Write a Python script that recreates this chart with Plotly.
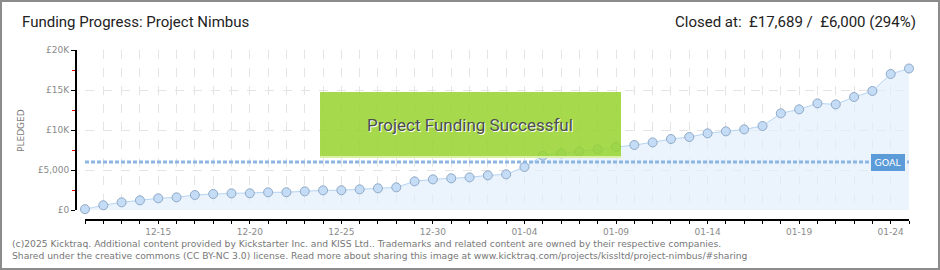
import plotly.graph_objects as go
import pandas as pd

# ---- data ----
dates = pd.date_range("2024-12-11", "2025-01-25", freq="D").strftime("%Y-%m-%d").tolist()
pledged = [100, 590, 960, 1210, 1460, 1580, 1875, 2000, 2080, 2090,
           2210, 2220, 2330, 2460, 2470, 2580, 2710, 2830, 3580, 3830,
           3960, 4080, 4330, 4460, 5380, 6790, 7080, 7330, 7580, 7875,
           8125, 8450, 8875, 9125, 9580, 9830, 10080, 10500, 12080, 12580,
           13330, 13200, 14125, 14875, 17000, 17689]
goal = 6000
x_label_dates = ["2024-12-15", "2024-12-20", "2024-12-25", "2024-12-30",
                 "2025-01-04", "2025-01-09", "2025-01-14", "2025-01-19", "2025-01-24"]
x_labels = ["12-15", "12-20", "12-25", "12-30", "01-04", "01-09", "01-14", "01-19", "01-24"]
y_tickvals = [0, 5000, 10000, 15000, 20000]
y_ticktext = ["£0", "£5,000", "£10K", "£15K", "£20K"]
y_minor = [2500, 7500, 12500, 17500]

title_left = "Funding Progress: Project Nimbus"
title_right = "Closed at:  £17,689 /  £6,000 (294%)"
footer1 = ("(c)2025 Kicktraq. Additional content provided by Kickstarter Inc. and KISS Ltd.. "
           "Trademarks and related content are owned by their respective companies.")
footer2 = ("Shared under the creative commons (CC BY-NC 3.0) license. Read more about sharing "
           "this image at www.kicktraq.com/projects/kissltd/project-nimbus/#sharing")

# ---- layout geometry helpers (pixels -> paper) ----
W, H = 940, 270
L, R, T, B = 76, 29, 50, 50
PW, PH = W - L - R, H - T - B
def px(x): return (x - L) / PW
def py(y): return (H - B - y) / PH

tickvals = dates
ticktext = [x_labels[x_label_dates.index(d)] if d in x_label_dates else "" for d in dates]

fig = go.Figure()

fig.add_trace(go.Scatter(
    x=dates, y=pledged, mode="lines+markers",
    line=dict(color="#b5d5f3", width=1),
    fill="tozeroy", fillcolor="rgba(225,237,251,0.65)",
    marker=dict(size=9, color="#c4dcf6", line=dict(color="#8fa9c6", width=1)),
    cliponaxis=False, hoverinfo="skip", showlegend=False,
))

fig.add_trace(go.Scatter(
    x=[dates[0], dates[-1]], y=[goal, goal], mode="lines",
    line=dict(color="#8db5e2", width=3, dash="4px,2px"),
    hoverinfo="skip", showlegend=False, cliponaxis=False,
))

fig.update_layout(
    width=W, height=H,
    margin=dict(l=L, r=R, t=T, b=B),
    paper_bgcolor="white", plot_bgcolor="white",
    xaxis=dict(
        type="date", range=[dates[0], dates[-1]],
        domain=[px(85), px(909)], anchor="free", position=0,
        tickmode="array", tickvals=tickvals, ticktext=ticktext,
        ticks="outside", ticklen=3, tickcolor="black", tickwidth=1,
        showline=True, linecolor="black", linewidth=2,
        showgrid=True, gridcolor="#e4e4e4", griddash="dash", gridwidth=1,
        tickfont=dict(family="DejaVu Sans", size=9, color="#8a8a8a"),
        zeroline=False, fixedrange=True,
    ),
    yaxis=dict(
        range=[0, 20000], domain=[py(210), 1], anchor="free", position=0,
        tickmode="array", tickvals=y_tickvals, ticktext=y_ticktext,
        ticks="outside", ticklen=4, tickcolor="black", tickwidth=1,
        showline=True, linecolor="black", linewidth=2,
        showgrid=True, gridcolor="#e4e4e4", griddash="dash", gridwidth=1,
        tickfont=dict(family="DejaVu Sans", size=9, color="#8a8a8a"),
        minor=dict(tickmode="array", tickvals=y_minor, ticks="outside", ticklen=3,
                   tickcolor="red", showgrid=False),
        zeroline=False, fixedrange=True,
    ),
    shapes=[
        # outer border
        dict(type="rect", xref="paper", yref="paper", x0=px(1), x1=px(939), y0=py(269), y1=py(1),
             line=dict(color="#8c8c8c", width=2), fillcolor="rgba(0,0,0,0)", layer="above"),
        # success box
        dict(type="rect", xref="paper", yref="paper", x0=px(320), x1=px(621), y0=py(157), y1=py(92),
             line=dict(width=0), fillcolor="rgba(150,212,45,0.85)", layer="above"),
        dict(type="line", xref="paper", yref="paper", x0=px(320), x1=px(621), y0=py(157), y1=py(157),
             line=dict(color="#d9f0a6", width=2), layer="above"),
    ],
    annotations=[
        dict(text=title_left, xref="paper", yref="paper", x=px(20), y=py(22),
             xanchor="left", yanchor="middle", showarrow=False,
             font=dict(family="Roboto", size=15, color="#222")),
        dict(text=title_right, xref="paper", yref="paper", x=px(918), y=py(22),
             xanchor="right", yanchor="middle", showarrow=False,
             font=dict(family="Roboto", size=15, color="#222")),
        dict(text="PLEDGED", xref="paper", yref="paper", x=px(21), y=py(130),
             xanchor="center", yanchor="middle", textangle=-90, showarrow=False,
             font=dict(family="DejaVu Sans", size=9, color="#7a7a7a")),
        dict(text="Project Funding Successful", xref="paper", yref="paper",
             x=px(470), y=py(125), xanchor="center", yanchor="middle", showarrow=False,
             font=dict(family="Roboto", size=17, color="#4d4d4d", shadow="1px 1px 0px #ffffff")),
        dict(text="GOAL", x=dates[-1], y=goal, xref="x", yref="y",
             xanchor="right", yanchor="middle", xshift=-4, showarrow=False,
             bgcolor="#5b9bd8", bordercolor="#5b9bd8", borderpad=2, width=28,
             font=dict(family="DejaVu Sans", size=9.5, color="white")),
        dict(text=footer1, xref="paper", yref="paper", x=px(10), y=py(243),
             xanchor="left", yanchor="middle", showarrow=False,
             font=dict(family="DejaVu Sans", size=9.2, color="#777")),
        dict(text=footer2, xref="paper", yref="paper", x=px(10), y=py(256),
             xanchor="left", yanchor="middle", showarrow=False,
             font=dict(family="DejaVu Sans", size=9.2, color="#777")),
    ],
)

fig.write_html("out.html", config={"displayModeBar": False})
